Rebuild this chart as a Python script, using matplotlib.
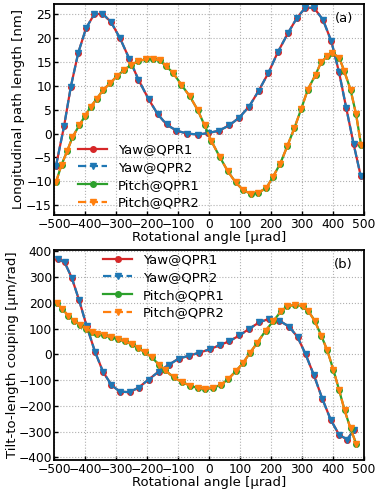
import matplotlib
matplotlib.use("Agg")
from matplotlib import pyplot as plt

# (a) longitudinal path length [nm]
x_yaw_a = [-494, -468, -446, -422, -397, -371, -344, -316, -287, -257, -228, -195,
           -166, -137, -105, -70, -35, -3, 32, 65, 97, 129, 160, 192, 222, 255,
           284, 311, 339, 368, 395, 420, 443, 467, 490]
yaw_a = [-6.8, 1.5, 9.8, 16.9, 22.0, 24.9, 25.1, 23.3, 19.9, 15.6, 11.3, 7.2,
         4.1, 1.9, 0.6, 0.0, -0.2, 0.1, 0.6, 1.7, 3.3, 5.6, 8.9, 12.7, 17.0, 21.0,
         24.2, 26.3, 26.3, 23.8, 19.3, 12.8, 5.4, -2.2, -8.9]
x_pitch_a = [-494, -476, -458, -441, -419, -401, -382, -363, -342, -318, -296, -275,
             -253, -229, -202, -181, -159, -140, -116, -89, -62, -37, -14, 8, 35,
             61, 86, 110, 135, 158, 185, 206, 230, 253, 276, 298, 319, 344, 362,
             382, 398, 421, 437, 457, 475, 491]
pitch_a = [-10.2, -6.5, -3.7, -0.8, 1.7, 3.6, 5.6, 7.2, 9.1, 10.6, 12.1, 13.2,
           14.3, 15.1, 15.6, 15.6, 15.3, 14.2, 12.7, 10.2, 7.8, 5.0, 1.7, -1.6, -4.9,
           -7.9, -10.2, -11.8, -12.6, -12.4, -11.4, -9.1, -6.3, -2.6, 1.2, 5.2, 9.2,
           12.3, 14.9, 16.2, 16.9, 15.8, 13.0, 9.2, 4.0, -2.4]

# (b) tilt-to-length coupling [um/rad]
x_yaw_b = [-489, -466, -443, -419, -395, -368, -342, -315, -288, -256, -227, -195,
           -162, -130, -98, -66, -32, 2, 34, 66, 98, 130, 162, 195, 227, 259, 286,
           312, 339, 366, 393, 420, 446, 468]
yaw_b = [370, 357, 297, 209, 110, 10, -68, -119, -145, -147, -129, -98,
         -67, -41, -17, -6, 6, 19, 35, 51, 73, 99, 124, 138, 131, 107, 67,
         0, -82, -173, -254, -312, -331, -293]
x_pitch_b = [-491, -473, -455, -436, -416, -398, -379, -360, -339, -315, -293, -272,
             -250, -230, -207, -184, -162, -141, -114, -87, -60, -36, -12, 14, 39,
             63, 87, 109, 132, 156, 183, 207, 234, 253, 277, 302, 320, 341, 363,
             382, 402, 420, 438, 457, 476]
pitch_b = [199, 176, 150, 131, 115, 99, 88, 80, 73, 66, 58, 50,
           40, 25, 8, -12, -40, -62, -90, -108, -122, -131, -135, -130, -118,
           -95, -65, -35, 5, 45, 92, 128, 169, 186, 192, 186, 169, 131, 71,
           15, -62, -138, -218, -288, -350]

plt.rcParams['font.size'] = 9.5

fig = plt.figure(figsize=(3.81, 4.94), dpi=100)
ax1 = fig.add_axes([0.142, 0.565, 0.813, 0.427])
ax2 = fig.add_axes([0.142, 0.069, 0.813, 0.425])


def draw(ax, xy, yy, xp, yp):
    ax.plot(xy, yy, color='tab:red', marker='o', ms=4, lw=1.6, label='Yaw@QPR1')
    ax.plot(xy, yy, color='tab:blue', marker='v', ms=4.5, lw=1.6, ls='--', label='Yaw@QPR2')
    ax.plot(xp, yp, color='tab:green', marker='o', ms=4, lw=1.6, label='Pitch@QPR1')
    ax.plot(xp, yp, color='tab:orange', marker='v', ms=4.5, lw=1.6, ls='--', label='Pitch@QPR2')
    ax.set_xlim(-500, 500)
    ax.set_xticks(range(-500, 501, 100))
    ax.grid(True, ls=':', color='#b0b0b0', lw=0.8)
    ax.tick_params(direction='in', length=3, width=1, pad=1.5, labelsize=8.8)
    ax.tick_params(axis='x', pad=2.5)
    for s in ax.spines.values():
        s.set_linewidth(1.3)
    ax.set_xlabel('Rotational angle [µrad]', labelpad=0, fontsize=9.5)


draw(ax1, x_yaw_a, yaw_a, x_pitch_a, pitch_a)
ax1.set_ylim(-17, 27.1)
ax1.set_yticks(range(-15, 26, 5))
ax1.set_ylabel('Longitudinal path length [nm]', labelpad=1, fontsize=9.5)
ax1.text(0.965, 0.93, '(a)', transform=ax1.transAxes, ha='right', va='center', fontsize=9.5)
ax1.legend(loc='lower left', bbox_to_anchor=(0.04, -0.03), frameon=False,
           handlelength=2.2, labelspacing=0.35, fontsize=9.5)

draw(ax2, x_yaw_b, yaw_b, x_pitch_b, pitch_b)
ax2.set_ylim(-410, 405)
ax2.set_yticks(range(-400, 401, 100))
ax2.set_ylabel('Tilt-to-length couping [µm/rad]', labelpad=0, fontsize=9.5)
ax2.text(0.965, 0.93, '(b)', transform=ax2.transAxes, ha='right', va='center', fontsize=9.5)
ax2.legend(loc='upper left', bbox_to_anchor=(0.12, 1.04), frameon=False,
           handlelength=2.2, labelspacing=0.35, fontsize=9.5)

fig.savefig('out.png', dpi=100)
